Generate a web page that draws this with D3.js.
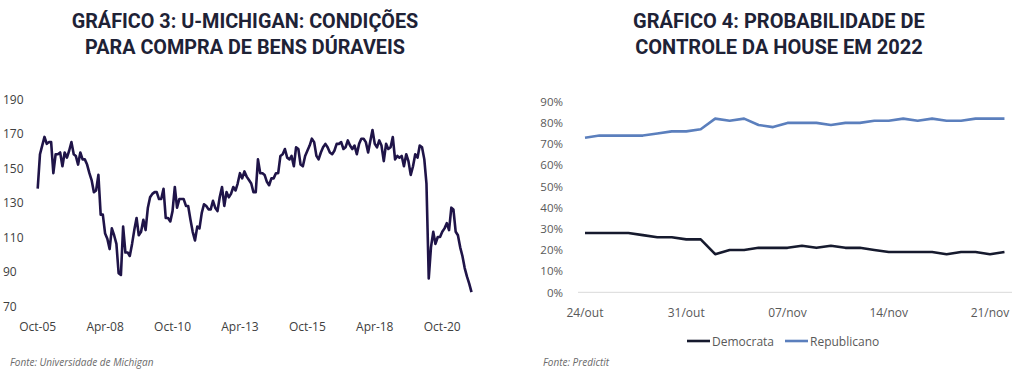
<!DOCTYPE html>
<html><head><meta charset="utf-8">
<script src="https://cdn.jsdelivr.net/npm/d3@7"></script>
<style>
html,body{margin:0;padding:0;background:#fff;}
svg{display:block;}
</style></head>
<body>
<svg id="c" width="1024" height="377"></svg>
<script>
// ---------- DATA ----------
// Gráfico 3: U-Michigan buying conditions for durables (monthly, from Oct-2005)
const umichStart = "2005-10-01";
const umichValues = [
 138,158,163,168,164,165,165,147,158,158,
 159,151,159,156,160,165,158,157,152,159,
 155,155,152,147,143,136,137,146,123,123,
 112,109,103,115,111,106,89,88,116,101,
 101,99,106,114,121,111,113,120,114,127,
 133,135,136,136,132,132,138,121,121,119,
 125,139,127,132,132,132,128,128,120,113,
 108,116,115,124,129,128,126,126,131,127,
 125,133,139,128,136,133,135,139,137,141,
 147,144,148,145,143,141,136,136,155,147,
 147,146,142,140,144,144,147,147,157,158,
 161,156,155,157,151,162,161,152,151,157,
 160,163,167,165,157,155,159,162,164,162,
 159,158,160,164,164,165,161,162,166,163,
 161,163,158,164,167,167,165,159,166,172,
 164,162,166,163,154,164,161,162,168,155,
 157,156,157,151,158,154,146,151,158,156,
 163,162,155,141,86,104,113,106,110,110,
 113,115,118,114,127,126,113,111,104,99,
 92,87,83,78
];
const umichTickDates = ["2005-10-01","2008-04-01","2010-10-01","2013-04-01","2015-10-01","2018-04-01","2020-10-01"];
const umichTickLabels = ["Oct-05","Apr-08","Oct-10","Apr-13","Oct-15","Apr-18","Oct-20"];
const umichYTicks = [70,90,110,130,150,170,190];

// Gráfico 4: PredictIt probability of House control 2022 (daily from 24/out)
const houseStart = "2022-10-24";
const democrata   = [28,28,28,28,27,26,26,25,25,18,20,20,21,21,21,22,21,22,21,21,20,19,19,19,19,18,19,19,18,19];
const republicano = [73,74,74,74,74,75,76,76,77,82,81,82,79,78,80,80,80,79,80,80,81,81,82,81,82,81,81,82,82,82];
const houseTickDates = ["2022-10-24","2022-10-31","2022-11-07","2022-11-14","2022-11-21"];
const houseTickLabels = ["24/out","31/out","07/nov","14/nov","21/nov"];
const houseYTicks = [0,10,20,30,40,50,60,70,80,90];
const seriesNames = ["Democrata","Republicano"];
const seriesColors = ["#161a2e","#5b7fbd"];

// ---------- DRAW ----------
const svg = d3.select("#c");
const parse = d3.timeParse("%Y-%m-%d");
const FONT = "'Open Sans', sans-serif";
const TITLE_FONT = "Roboto, sans-serif";

function title(lines, cx, widthTarget) {
  const g = svg.append("g");
  lines.forEach((t, i) => {
    const el = g.append("text").attr("x", cx).attr("y", 28 + i * 26)
      .attr("text-anchor", "middle").attr("font-family", TITLE_FONT)
      .attr("font-weight", 700).attr("font-size", 20).attr("fill", "#1e2236").text(t);
  });
  // scale font so first line matches target width
  const first = g.select("text").node();
  const w = first.getComputedTextLength();
  const fs = 20 * widthTarget / w;
  g.selectAll("text").attr("font-size", fs);
}
title(["GRÁFICO 3: U-MICHIGAN: CONDIÇÕES", "PARA COMPRA DE BENS DÚRAVEIS"], 245, 347);
title(["GRÁFICO 4: PROBABILIDADE DE", "CONTROLE DA HOUSE EM 2022"], 779, 292);

// ----- Left chart -----
const uDates = umichValues.map((v, i) => d3.timeMonth.offset(parse(umichStart), i));
const xL = d3.scaleTime().domain([uDates[0], uDates[uDates.length - 1]]).range([37.7, 471.5]);
const yL = d3.scaleLinear().domain([70, 190]).range([306, 99]);

const gL = svg.append("g");
gL.selectAll("text.yl").data(umichYTicks).join("text")
  .attr("x", 3).attr("y", d => yL(d) + 4.5)
  .attr("font-family", FONT).attr("font-size", 12).attr("fill", "#404040")
  .text(d => d);
gL.selectAll("text.xl").data(umichTickDates).join("text")
  .attr("x", d => xL(parse(d))).attr("y", 331)
  .attr("text-anchor", "middle")
  .attr("font-family", FONT).attr("font-size", 12).attr("fill", "#404040")
  .text((d, i) => umichTickLabels[i]);
gL.append("path").datum(umichValues)
  .attr("fill", "none").attr("stroke", "#1f1448").attr("stroke-width", 2.6)
  .attr("stroke-linejoin", "round")
  .attr("d", d3.line().x((d, i) => xL(uDates[i])).y(d => yL(d)));

svg.append("text").attr("x", 10).attr("y", 366)
  .attr("font-family", FONT).attr("font-style", "italic").attr("font-size", 10)
  .attr("fill", "#6b6b6b").text("Fonte: Universidade de Michigan");

// ----- Right chart -----
const hDates = democrata.map((v, i) => d3.timeDay.offset(parse(houseStart), i));
const xR = d3.scaleTime().domain([parse(houseTickDates[0]), parse(houseTickDates[4])]).range([585, 990]);
const yR = d3.scaleLinear().domain([0, 90]).range([292.3, 101.7]);

const gR = svg.append("g");
gR.selectAll("text.yr").data(houseYTicks).join("text")
  .attr("x", 563).attr("y", d => yR(d) + 4.2).attr("text-anchor", "end")
  .attr("font-family", FONT).attr("font-size", 11.5).attr("fill", "#595959")
  .text(d => d + "%");
gR.append("line").attr("x1", 578).attr("x2", 1012)
  .attr("y1", yR(0)).attr("y2", yR(0)).attr("stroke", "#d9d9d9").attr("stroke-width", 1);
gR.selectAll("text.xr").data(houseTickDates).join("text")
  .attr("x", d => xR(parse(d))).attr("y", 317).attr("text-anchor", "middle")
  .attr("font-family", FONT).attr("font-size", 12).attr("fill", "#595959")
  .text((d, i) => houseTickLabels[i]);

const lineR = d3.line().x((d, i) => xR(hDates[i])).y(d => yR(d));
[democrata, republicano].forEach((s, k) => {
  gR.append("path").datum(s).attr("fill", "none").attr("stroke", seriesColors[k])
    .attr("stroke-width", 2.6).attr("stroke-linejoin", "round").attr("d", lineR);
});

// legend
const legX = [687, 785];
seriesNames.forEach((n, k) => {
  gR.append("line").attr("x1", legX[k]).attr("x2", legX[k] + 23)
    .attr("y1", 341).attr("y2", 341).attr("stroke", seriesColors[k]).attr("stroke-width", 2.6);
  gR.append("text").attr("x", legX[k] + 25).attr("y", 345.5)
    .attr("font-family", FONT).attr("font-size", 12).attr("fill", "#595959").text(n);
});

svg.append("text").attr("x", 543).attr("y", 366)
  .attr("font-family", FONT).attr("font-style", "italic").attr("font-size", 10)
  .attr("fill", "#6b6b6b").text("Fonte: Predictit");
</script>
</body></html>
